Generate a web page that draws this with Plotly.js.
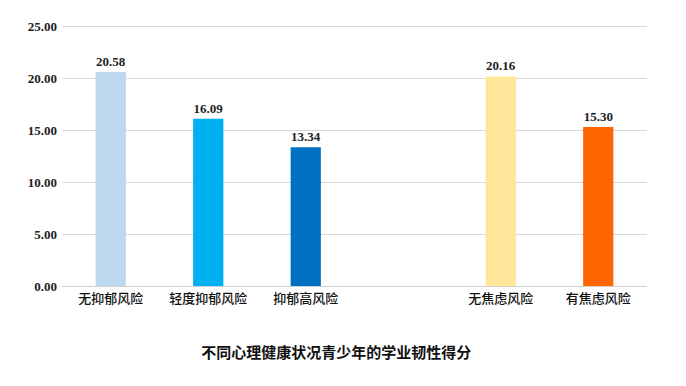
<!DOCTYPE html>
<html>
<head>
<meta charset="utf-8">
<script src="https://cdn.plot.ly/plotly-3.0.1.min.js"></script>
<style>html,body{margin:0;padding:0;background:#fff;}#chart{width:686px;height:386px;}</style>
</head>
<body>
<div id="chart"></div>
<script>
var depressionCats = ['无抑郁风险', '轻度抑郁风险', '抑郁高风险'];
var depressionVals = [20.58, 16.09, 13.34];
var depressionColors = ['#BDD7EE', '#00B0F0', '#0070C0'];
var anxietyCats = ['无焦虑风险', '有焦虑风险'];
var anxietyVals = [20.16, 15.30];
var anxietyColors = ['#FFE699', '#FF6600'];
var yTicks = [0, 5, 10, 15, 20, 25];
var chartTitle = '不同心理健康状况青少年的学业韧性得分';

var depX = depressionCats.map(function (c, i) { return i; });
var anxX = anxietyCats.map(function (c, i) { return i + depressionCats.length + 1; });

function barTrace(x, y, colors) {
  return {
    type: 'bar', x: x, y: y,
    marker: { color: colors, line: { width: 0 } },
    width: 0.31,
    text: y.map(function (v) { return v.toFixed(2); }),
    textposition: 'outside',
    cliponaxis: false,
    textfont: { family: 'Liberation Serif', size: 13, color: '#222', weight: 'bold' },
    hoverinfo: 'skip',
    showlegend: false
  };
}

var data = [
  barTrace(depX, depressionVals, depressionColors),
  barTrace(anxX, anxietyVals, anxietyColors)
];

var layout = {
  width: 686, height: 386,
  margin: { l: 62, r: 39, t: 23, b: 100 },
  paper_bgcolor: '#fff', plot_bgcolor: '#fff',
  title: {
    text: chartTitle,
    font: { family: 'Noto Sans CJK SC', size: 15, color: '#111', weight: 'bold' },
    x: 0.49, xanchor: 'center', y: 1 - 353 / 386, yanchor: 'middle'
  },
  xaxis: {
    range: [-0.5, depressionCats.length + anxietyCats.length + 0.5],
    tickvals: depX.concat(anxX),
    ticktext: depressionCats.concat(anxietyCats),
    tickfont: { family: 'Noto Sans CJK SC', size: 13, color: '#111', weight: 500 },
    showgrid: false, zeroline: false, showline: false, ticks: '', ticklen: 0,
    ticklabelstandoff: 3,
    fixedrange: true
  },
  yaxis: {
    range: [0, 25.3],
    tickvals: yTicks,
    ticktext: yTicks.map(function (v) { return v.toFixed(2); }),
    tickfont: { family: 'Liberation Serif', size: 13, color: '#222', weight: 'bold' },
    showgrid: true, gridcolor: '#d9d9d9', gridwidth: 1,
    zeroline: true, zerolinecolor: '#d0d0d0', zerolinewidth: 1,
    showline: false, ticks: '', ticklabelstandoff: 4,
    fixedrange: true
  },
  bargap: 0.69
};

Plotly.newPlot('chart', data, layout, { displayModeBar: false, staticPlot: true });
</script>
</body>
</html>
